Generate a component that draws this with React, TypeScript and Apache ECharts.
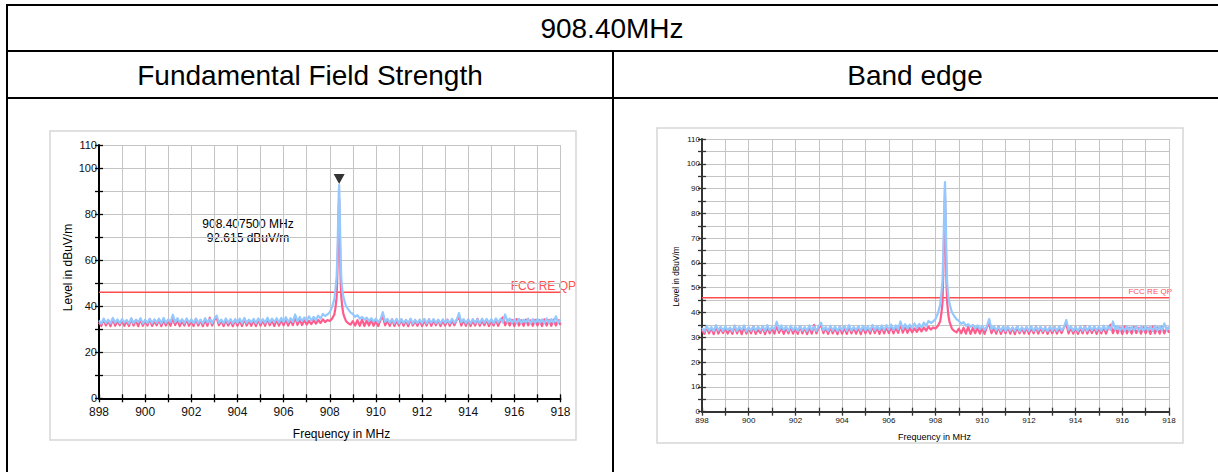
import React, { useEffect, useRef } from "react";
import * as echarts from "echarts";

// ---------- data ----------
const F_START = 898;
const F_STEP = 0.1;
const xTickLabels = [898, 900, 902, 904, 906, 908, 910, 912, 914, 916, 918];

// max-hold (peak) trace, 898.0 .. 918.0 MHz in 0.1 MHz steps (null = see peak arrays)
const blueNoise: (number | null)[] = [
  33.8, 32.4, 34.6, 32.7, 34.1, 32.5, 34.9, 32.8, 34.3, 32.6,
  34.4, 32.9, 34.0, 32.5, 34.7, 32.6, 34.2, 33.0, 34.8, 32.4,
  34.1, 32.7, 34.5, 32.6, 34.3, 32.8, 34.6, 32.5, 34.9, 32.7,
  34.2, 33.1, 36.3, 33.0, 34.8, 32.9, 34.4, 32.6, 34.7, 32.8,
  34.3, 32.6, 34.6, 32.7, 34.1, 32.5, 34.8, 32.9, 34.4, 32.6,
  34.5, 35.9, 32.8, 34.2, 32.6, 34.7, 32.7, 34.4, 32.5, 34.3,
  32.8, 34.6, 32.6, 34.9, 32.7, 34.2, 32.9, 34.5, 32.6, 34.7,
  32.8, 34.4, 32.7, 35.0, 32.9, 34.6, 33.0, 34.8, 32.9, 34.9,
  33.1, 35.2, 33.0, 34.8, 33.2, 36.4, 33.4, 35.3, 33.5, 35.1,
  33.6, 35.6, 33.8, 35.4, 34.0, 35.9, 34.6, 36.6, 35.8, 36.4,
  37.4, 39.6, 43.2, null, null, null, 43.6, 40.2, 38.6, 37.3,
  36.6, 35.4, 36.1, 34.6, 35.3, 34.2, 35.0, 33.6, 34.8, 33.3,
  34.6, 33.0, 34.4, 37.4, 33.2, 34.5, 32.8, 34.3, 32.6, 34.5,
  32.5, 34.4, 32.7, 34.0, 32.6, 34.6, 32.4, 34.1, 32.7, 34.2,
  32.6, 34.5, 32.5, 34.2, 32.8, 34.4, 32.6, 34.0, 32.5, 34.3,
  32.7, 34.1, 32.6, 34.5, 32.8, 34.0, 37.0, 33.0, 34.4, 32.6,
  34.2, 32.5, 34.4, 32.7, 34.3, 32.6, 34.6, 32.8, 34.5, 32.7,
  34.4, 32.6, 34.7, 32.9, 34.5, 33.0, 36.4, 33.1, 34.6, 32.8,
  34.3, 32.6, 34.5, 32.7, 34.2, 32.9, 34.6, 32.5, 34.4, 32.7,
  34.5, 32.8, 34.3, 32.6, 34.7, 32.7, 34.4, 32.9, 35.6, 32.8,
  34.3,
];

// quasi-peak / average trace, same frequency grid
const pinkNoise: (number | null)[] = [
  33.0, 31.4, 34.2, 31.6, 33.8, 31.3, 34.5, 31.5, 33.6, 31.7,
  34.0, 31.5, 33.7, 31.4, 34.6, 31.6, 33.9, 31.3, 34.3, 31.5,
  33.8, 31.6, 34.4, 31.4, 33.6, 31.7, 34.2, 31.3, 34.0, 31.6,
  33.9, 31.5, 34.8, 31.8, 34.1, 31.4, 33.7, 31.6, 34.3, 31.5,
  33.8, 31.4, 34.5, 31.6, 33.9, 31.3, 34.2, 31.5, 35.0, 31.6,
  34.0, 34.9, 31.7, 33.8, 31.4, 34.1, 31.6, 33.7, 31.3, 34.2,
  31.5, 33.9, 31.4, 34.4, 31.6, 33.8, 31.5, 34.1, 31.3, 34.2,
  31.6, 33.9, 31.5, 34.5, 31.7, 34.0, 31.4, 34.2, 31.6, 34.1,
  31.7, 34.3, 31.6, 33.9, 31.8, 35.3, 31.9, 34.2, 31.8, 34.0,
  32.0, 33.6, 32.2, 33.9, 32.4, 34.0, 32.7, 34.3, 33.1, 34.0,
  33.6, 34.6, 36.4, null, null, null, 36.2, 33.6, 32.6, 32.0,
  33.5, 31.6, 33.9, 31.5, 34.2, 31.4, 33.8, 31.6, 34.0, 31.5,
  33.7, 31.4, 34.1, 35.4, 31.7, 33.9, 31.5, 34.3, 31.4, 33.8,
  31.6, 34.2, 31.5, 33.9, 31.3, 34.4, 31.6, 33.7, 31.5, 34.0,
  31.4, 33.8, 31.6, 34.3, 31.5, 33.9, 31.7, 34.1, 31.4, 33.8,
  31.6, 34.2, 31.5, 33.9, 31.7, 34.0, 35.4, 31.6, 34.0, 31.5,
  34.2, 31.4, 33.8, 31.6, 34.5, 31.5, 33.9, 31.7, 34.1, 31.4,
  33.9, 31.6, 34.3, 31.5, 33.8, 35.1, 31.7, 34.2, 31.6, 34.0,
  31.4, 34.4, 31.6, 33.9, 31.5, 34.2, 31.7, 33.8, 31.5, 34.1,
  31.6, 33.9, 31.4, 34.3, 31.6, 34.0, 31.5, 34.2, 31.6, 33.9,
  31.8,
];

// carrier peak, finer frequency resolution
const peakFreq = [908.25, 908.3, 908.34, 908.37, 908.39, 908.4075, 908.42, 908.44, 908.47, 908.5, 908.55];
const peakBlue = [47.5, 53.0, 66.0, 80.0, 89.5, 92.615, 88.0, 78.0, 62.0, 52.0, 46.5];
const peakPink = [39.5, 44.0, 58.0, 73.0, 83.0, 86.7, 82.0, 70.0, 52.0, 44.0, 39.0];

const markerFreq = 908.4075;
const markerLevel = 92.615;
const limitLevel = 46;
const limitName = "FCC RE QP";

const FONT = "'Liberation Sans', Arial, Helvetica, sans-serif";

function buildTrace(noise: (number | null)[], peak: number[]) {
  const pts: number[][] = [];
  noise.forEach((v, i) => {
    if (v != null) pts.push([+(F_START + i * F_STEP).toFixed(2), v]);
  });
  peakFreq.forEach((f, i) => pts.push([f, peak[i]]));
  pts.sort((a, b) => a[0] - b[0]);
  return pts;
}

export default function App() {
  const ref = useRef<HTMLDivElement>(null);

  useEffect(() => {
    if (!ref.current) return;
    const chart = echarts.init(ref.current, undefined, { renderer: "svg" });
    const blue = buildTrace(blueNoise, peakBlue);
    const pink = buildTrace(pinkNoise, peakPink);
    const limitData = [[xTickLabels[0], limitLevel], [xTickLabels[xTickLabels.length - 1], limitLevel]];

    const mkX = (grid: number, fs: number, margin: number, lw: number, axisColor: string, inner: boolean) => ({
      type: "value",
      gridIndex: grid,
      min: 898,
      max: 918,
      interval: 1,
      position: "bottom",
      axisLine: { show: !inner, onZero: false, lineStyle: { color: axisColor, width: lw } },
      axisTick: { show: true, inside: inner, length: 4, lineStyle: { color: axisColor, width: 1.3 } },
      axisLabel: inner
        ? { show: false }
        : {
            show: true,
            margin,
            fontSize: fs,
            fontFamily: FONT,
            color: "#111",
            formatter: (v: number) => (xTickLabels.includes(v) ? String(v) : ""),
          },
      splitLine: { show: !inner, lineStyle: { color: "#c4c4c4", width: 1 } },
    });

    const mkY = (grid: number, fs: number, margin: number, lw: number, axisColor: string, inner: boolean, interval: number, labelFn: (v: number) => string) => ({
      type: "value",
      gridIndex: grid,
      min: 0,
      max: 110,
      interval,
      position: "left",
      axisLine: { show: !inner, onZero: false, lineStyle: { color: axisColor, width: lw } },
      axisTick: { show: true, inside: inner, length: 4, lineStyle: { color: axisColor, width: 1.3 } },
      axisLabel: inner
        ? { show: false }
        : { show: true, margin, fontSize: fs, fontFamily: FONT, color: "#111", formatter: labelFn },
      splitLine: { show: !inner, lineStyle: { color: "#c4c4c4", width: 1 } },
    });

    const leftLabel = (v: number) => (v % 20 === 0 || v === 110 ? String(v) : "");
    const rightLabel = (v: number) => (v % 10 === 0 ? String(v) : "");

    const traceSeries = (xi: number, yi: number) => [
      {
        type: "line",
        xAxisIndex: xi,
        yAxisIndex: yi,
        data: limitData,
        showSymbol: false,
        silent: true,
        lineStyle: { color: "#ff4d4d", width: 1.5 },
        z: 2,
      },
      {
        type: "line",
        xAxisIndex: xi,
        yAxisIndex: yi,
        data: pink,
        showSymbol: false,
        silent: true,
        lineStyle: { color: "#ff5c8d", width: 2.2, join: "round" },
        z: 3,
      },
      {
        type: "line",
        xAxisIndex: xi,
        yAxisIndex: yi,
        data: blue,
        showSymbol: false,
        silent: true,
        lineStyle: { color: "#94c8ff", width: 2.2, join: "round" },
        z: 4,
      },
    ];

    const line = (x1: number, y1: number, x2: number, y2: number) => ({
      type: "line",
      shape: { x1, y1, x2, y2 },
      style: { stroke: "#000", lineWidth: 2 },
      silent: true,
    });
    const text = (x: number, y: number, t: string, size: number, extra: any = {}) => ({
      type: "text",
      x,
      y,
      silent: true,
      rotation: extra.rotation,
      style: {
        text: t,
        font: `${size}px ${FONT}`,
        fill: extra.fill || "#000",
        textAlign: extra.align || "center",
        textVerticalAlign: "middle",
        lineHeight: extra.lineHeight,
      },
    });

    chart.setOption({
      animation: false,
      backgroundColor: "#fff",
      grid: [
        { left: 99, top: 145, width: 461.5, height: 253.3 },
        { left: 702, top: 139, width: 467, height: 272.7 },
      ],
      xAxis: [
        mkX(0, 12, 8, 2, "#000", false),
        mkX(0, 12, 8, 2, "#000", true),
        mkX(1, 8, 5, 2, "#333", false),
        mkX(1, 8, 5, 2, "#333", true),
      ],
      yAxis: [
        mkY(0, 11, 2, 2, "#000", false, 10, leftLabel),
        mkY(0, 11, 2, 2, "#000", true, 10, leftLabel),
        mkY(1, 8, 2, 2, "#333", false, 5, rightLabel),
        mkY(1, 8, 2, 2, "#333", true, 5, rightLabel),
      ],
      series: [
        ...traceSeries(0, 0),
        {
          type: "scatter",
          xAxisIndex: 0,
          yAxisIndex: 0,
          data: [[markerFreq, markerLevel]],
          symbol: "triangle",
          symbolRotate: 180,
          symbolSize: [11, 10],
          symbolOffset: [0, -6],
          itemStyle: { color: "#000" },
          silent: true,
          z: 6,
        },
        ...traceSeries(2, 2),
      ],
      graphic: [
        // table
        line(6, 5, 1218, 5),
        line(7, 4, 7, 472),
        line(6, 51, 1218, 51),
        line(6, 98, 1218, 98),
        line(613, 51, 613, 472),
        text(612, 28, "908.40MHz", 28),
        text(310, 75, "Fundamental Field Strength", 28),
        text(915, 75, "Band edge", 28),
        // chart frames
        {
          type: "rect",
          shape: { x: 50, y: 131, width: 526, height: 309 },
          style: { fill: "none", stroke: "#d6d6d6", lineWidth: 1.5 },
          silent: true,
          z: -1,
        },
        {
          type: "rect",
          shape: { x: 657, y: 128, width: 526, height: 315 },
          style: { fill: "none", stroke: "#d6d6d6", lineWidth: 1.5 },
          silent: true,
          z: -1,
        },
        // left chart texts
        text(68, 267.5, "Level in dBuV/m", 12, { rotation: Math.PI / 2 }),
        text(341.5, 434, "Frequency in MHz", 12),
        text(248, 231, `${markerFreq.toFixed(6)} MHz\n${markerLevel.toFixed(3)} dBuV/m`, 12, { lineHeight: 14 }),
        text(576, 286, limitName, 12, { align: "right", fill: "#ff5050" }),
        // right chart texts
        text(676, 276.5, "Level in dBuV/m", 8.3, { rotation: Math.PI / 2 }),
        text(934.5, 437, "Frequency in MHz", 9),
        text(1172, 291, limitName, 8, { align: "right", fill: "#ff5050" }),
      ],
    });

    return () => chart.dispose();
  }, []);

  return (
    <div
      ref={ref}
      style={{ position: "fixed", left: 0, top: 0, width: 1218, height: 472, background: "#fff" }}
    />
  );
}
